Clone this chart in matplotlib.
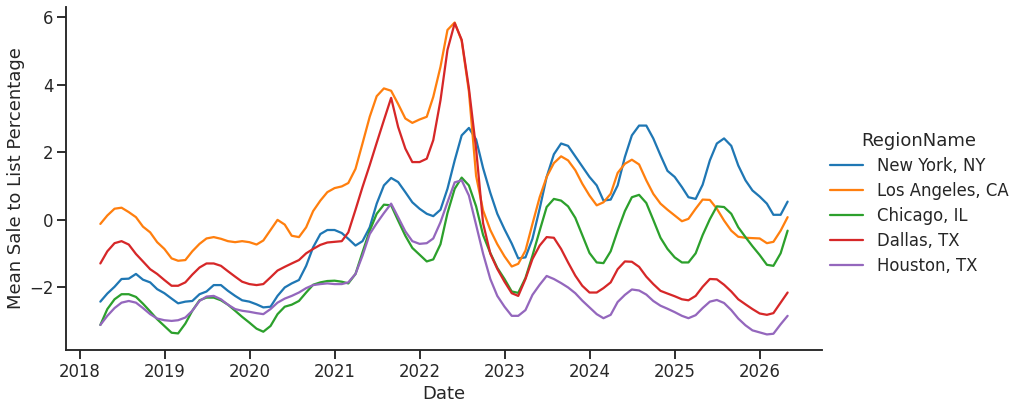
import matplotlib
matplotlib.use("Agg")
import matplotlib.pyplot as plt
import matplotlib.dates as mdates
import seaborn as sns
import pandas as pd
import numpy as np

dates = pd.date_range("2018-03-31", periods=98, freq="ME")

new_york = [-2.42, -2.18, -1.98, -1.75, -1.74, -1.6, -1.77, -1.85, -2.05, -2.17,
            -2.33, -2.47, -2.42, -2.4, -2.2, -2.12, -1.93, -1.93, -2.1, -2.25,
            -2.38, -2.42, -2.5, -2.59, -2.57, -2.25, -2.0, -1.88, -1.78, -1.36,
            -0.81, -0.42, -0.3, -0.3, -0.39, -0.56, -0.76, -0.63, -0.22, 0.48,
            1.02, 1.24, 1.12, 0.82, 0.52, 0.33, 0.18, 0.11, 0.3, 0.92,
            1.76, 2.5, 2.72, 2.38, 1.53, 0.8, 0.18, -0.28, -0.7, -1.14,
            -1.11, -0.56, 0.33, 1.27, 1.94, 2.26, 2.19, 1.88, 1.58, 1.27,
            1.02, 0.57, 0.6, 1.02, 1.86, 2.5, 2.79, 2.79, 2.41, 1.91,
            1.45, 1.27, 0.97, 0.67, 0.62, 1.04, 1.76, 2.26, 2.41, 2.19,
            1.61, 1.17, 0.87, 0.69, 0.48, 0.15, 0.15, 0.54]

los_angeles = [-0.12, 0.13, 0.33, 0.36, 0.23, 0.08, -0.2, -0.37, -0.66, -0.86,
               -1.14, -1.21, -1.19, -0.93, -0.71, -0.55, -0.51, -0.56, -0.63, -0.66,
               -0.63, -0.66, -0.73, -0.61, -0.3, 0.0, -0.14, -0.47, -0.51, -0.22,
               0.26, 0.57, 0.82, 0.94, 0.99, 1.09, 1.51, 2.26, 3.05, 3.66,
               3.89, 3.82, 3.43, 3.0, 2.87, 2.97, 3.05, 3.64, 4.53, 5.62,
               5.84, 5.3, 3.8, 1.3, 0.28, -0.3, -0.72, -1.08, -1.38, -1.3,
               -0.91, -0.12, 0.67, 1.27, 1.68, 1.88, 1.76, 1.47, 1.07, 0.72,
               0.43, 0.52, 0.77, 1.39, 1.66, 1.78, 1.64, 1.17, 0.77, 0.48,
               0.3, 0.13, -0.04, 0.03, 0.33, 0.6, 0.59, 0.33, -0.02, -0.32,
               -0.5, -0.53, -0.54, -0.55, -0.69, -0.65, -0.32, 0.08]

chicago = [-3.11, -2.64, -2.35, -2.2, -2.2, -2.28, -2.48, -2.71, -2.94, -3.14,
           -3.34, -3.36, -3.07, -2.69, -2.38, -2.3, -2.3, -2.38, -2.51, -2.69,
           -2.87, -3.04, -3.22, -3.31, -3.14, -2.79, -2.57, -2.51, -2.4, -2.15,
           -1.92, -1.85, -1.81, -1.8, -1.83, -1.88, -1.6, -0.96, -0.32, 0.18,
           0.45, 0.43, -0.02, -0.47, -0.83, -1.03, -1.23, -1.17, -0.72, 0.2,
           0.92, 1.25, 1.02, 0.4, -0.45, -0.98, -1.42, -1.75, -2.12, -2.16,
           -1.72, -1.06, -0.32, 0.38, 0.62, 0.57, 0.4, 0.06, -0.45, -0.98,
           -1.26, -1.28, -0.93, -0.32, 0.26, 0.67, 0.74, 0.5, 0.0, -0.53,
           -0.86, -1.11, -1.26, -1.26, -0.99, -0.45, 0.02, 0.4, 0.38, 0.18,
           -0.22, -0.51, -0.78, -1.04, -1.33, -1.36, -0.99, -0.32]

dallas = [-1.29, -0.93, -0.69, -0.63, -0.73, -1.01, -1.23, -1.46, -1.6, -1.78,
          -1.95, -1.95, -1.85, -1.62, -1.41, -1.29, -1.29, -1.36, -1.52, -1.68,
          -1.83, -1.9, -1.93, -1.9, -1.7, -1.5, -1.39, -1.29, -1.19, -0.99,
          -0.86, -0.74, -0.67, -0.65, -0.63, -0.37, 0.3, 0.97, 1.62, 2.28,
          2.95, 3.61, 2.75, 2.11, 1.71, 1.71, 1.81, 2.36, 3.54, 5.03,
          5.82, 5.33, 3.9, 2.1, -0.1, -1.0, -1.45, -1.83, -2.17, -2.25,
          -1.75, -1.16, -0.76, -0.51, -0.53, -0.86, -1.26, -1.65, -1.95, -2.15,
          -2.15, -2.02, -1.85, -1.46, -1.23, -1.24, -1.39, -1.68, -1.9, -2.1,
          -2.18, -2.26, -2.35, -2.38, -2.25, -1.98, -1.75, -1.76, -1.92, -2.12,
          -2.35, -2.5, -2.64, -2.77, -2.81, -2.76, -2.45, -2.15]

houston = [-3.11, -2.84, -2.61, -2.45, -2.4, -2.45, -2.61, -2.79, -2.92, -2.97,
           -2.99, -2.97, -2.89, -2.69, -2.4, -2.27, -2.25, -2.35, -2.51, -2.64,
           -2.69, -2.72, -2.76, -2.79, -2.64, -2.45, -2.33, -2.25, -2.15, -2.02,
           -1.93, -1.9, -1.88, -1.9, -1.9, -1.85, -1.6, -1.06, -0.42, -0.1,
           0.2, 0.48, 0.08, -0.34, -0.63, -0.71, -0.69, -0.55, -0.07, 0.52,
           1.11, 1.17, 0.72, -0.15, -1.0, -1.75, -2.25, -2.57, -2.84, -2.84,
           -2.67, -2.22, -1.92, -1.66, -1.75, -1.87, -2.0, -2.17, -2.39, -2.59,
           -2.79, -2.91, -2.81, -2.43, -2.22, -2.06, -2.09, -2.21, -2.4, -2.54,
           -2.63, -2.73, -2.84, -2.91, -2.82, -2.61, -2.42, -2.37, -2.46, -2.67,
           -2.92, -3.12, -3.27, -3.33, -3.39, -3.37, -3.09, -2.84]

regions = ["New York, NY", "Los Angeles, CA", "Chicago, IL", "Dallas, TX", "Houston, TX"]
series = [new_york, los_angeles, chicago, dallas, houston]

df = pd.concat(
    [pd.DataFrame({"Date": dates, "Mean Sale to List Percentage": vals, "RegionName": name})
     for name, vals in zip(regions, series)],
    ignore_index=True,
)

sns.set_style("ticks")
sns.set_context("talk")

fig = plt.figure(figsize=(1023 / 72, 407 / 72), dpi=72)
ax = fig.add_axes([0.0645, 0.140, 0.739, 0.843])

sns.lineplot(data=df, x="Date", y="Mean Sale to List Percentage", hue="RegionName",
             palette="tab10", ax=ax)
sns.despine(ax=ax)

ax.xaxis.set_major_locator(mdates.YearLocator())
ax.xaxis.set_major_formatter(mdates.DateFormatter("%Y"))
ax.set_yticks([-2, 0, 2, 4, 6])

handles, labels = ax.get_legend_handles_labels()
ax.get_legend().remove()
fig.legend(handles, labels, title="RegionName", loc="center right",
           bbox_to_anchor=(1, 0.5), frameon=False, labelspacing=0.42)

fig.savefig("out.png", dpi=72)
